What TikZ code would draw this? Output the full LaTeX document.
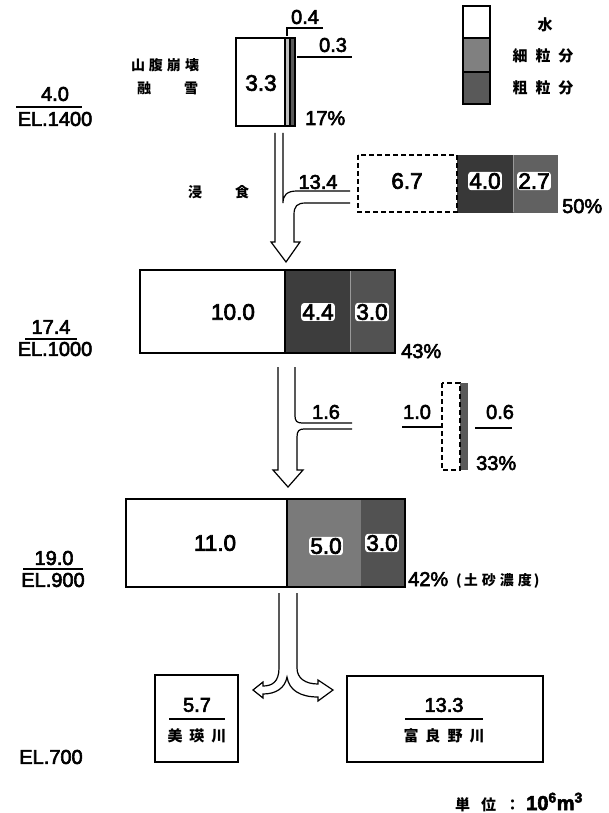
\documentclass[tikz,border=0pt]{standalone}
\usepackage{fontspec}
\setmainfont{Liberation Sans}
\newfontfamily\numf{Liberation Sans}[FakeBold=3]
\newfontfamily\jp{Noto Sans CJK JP}
\newcommand\jsp{\hspace{4pt}}
\begin{document}
\begin{tikzpicture}[x=1pt,y=-1pt,
  num/.style={font=\numf\fontsize{20}{20}\selectfont, inner sep=0pt},
  big/.style={font=\numf\fontsize{22.5}{22.5}\selectfont, inner sep=0pt},
  wnum/.style={big, fill=white, rounded corners=3pt, inner sep=1.2pt},
  jtxt/.style={font=\jp\bfseries\fontsize{14}{14}\selectfont, inner sep=0pt},
  jleg/.style={font=\jp\bfseries\fontsize{15}{15}\selectfont, inner sep=0pt},
  ln/.style={line width=1.2pt},
  box/.style={draw, line width=1.4pt},
  dbox/.style={draw, line width=1.4pt, dash pattern=on 5pt off 3pt}]
\useasboundingbox (0,0) rectangle (608,813);
\fill[white] (0,0) rectangle (608,813);

% ---------- legend ----------
\draw[ln, fill=white] (463,6) rectangle (490,38);
\draw[ln, fill=black!50] (463,38) rectangle (490,72);
\draw[ln, fill=black!65] (463,72) rectangle (490,104);
\draw[box] (463,6) rectangle (490,104);
\node[jleg] (lw) at (545,25) {水};
\node[jleg] (lf) at (543,56) {細\hspace{8pt}粒\hspace{8pt}分};
\node[jleg] (lc) at (543,88) {粗\hspace{8pt}粒\hspace{8pt}分};

% ---------- block 1 ----------
\fill[white] (236,38) rectangle (285,126);
\draw[ln, fill=black!25] (285,38) rectangle (290,126);
\draw[ln, fill=black!65] (290,38) rectangle (295,126);
\draw[box] (236,38) rectangle (295,126);
\node[big] (b1w) at (261,83) {3.3};
\node[num] (b1f) at (305,17) {0.4};
\coordinate (b1fa) at (287,36); \coordinate (b1fb) at (287,28); \coordinate (b1fc) at (323,28);
\draw[ln] (b1fa) -- (b1fb) -- (b1fc);
\node[num] (b1c) at (333,45) {0.3};
\coordinate (b1ca) at (297,57); \coordinate (b1cb) at (352,57);
\draw[ln] (b1ca) -- (b1cb);
\node[num, anchor=base west] (p1) at (305,125) {17\%};
\node[jtxt] (src1) at (165,65) {山\jsp{}腹\jsp{}崩\jsp{}壊};
\node[jtxt] (src2a) at (144,88) {融};
\node[jtxt] (src2b) at (191,88) {雪};
\node[num] (q1) at (55,94) {4.0};
\coordinate (q1a) at (16,107); \coordinate (q1b) at (82,107);
\draw[ln] (q1a) -- (q1b);
\node[num] (e1) at (55,119) {EL.1400};

% ---------- arrow 1 ----------
\draw[ln, line join=miter] (275,133) -- (275,242) -- (271,242) -- (286,262) -- (300,242) -- (294,242) -- (294,215)
  .. controls (294,206) and (297,203) .. (306,203) -- (350,203);
\draw[ln] (283,133) -- (283,203) .. controls (283,195) and (287,191) .. (297,191) -- (350,191);
\node[num] (a1) at (318,182) {13.4};
\node[jtxt] (er1) at (195,192) {浸};
\node[jtxt] (er2) at (242,192) {食};

% ---------- block 2 (erosion) ----------
\draw[draw=black!78, fill=black!78] (457,155) rectangle (513,212);
\draw[draw=black!62, fill=black!62] (513,155) rectangle (557,212);
\draw[dbox] (358,155) rectangle (457,212);
\draw[draw=black!40, line width=0.6pt] (513,155) -- (513,212);
\node[big] (b2w) at (407,181) {6.7};
\node[wnum] (b2f) at (485,181) {4.0};
\node[wnum] (b2c) at (534,181) {2.7};
\node[num, anchor=base west] (p2) at (562,213) {50\%};

% ---------- block 3 ----------
\fill[white] (140,270) rectangle (285,353);
\fill[black!76] (285,270) rectangle (350,353);
\fill[black!68] (350,270) rectangle (395,353);
\draw[draw=black!40, line width=0.6pt] (350,270) -- (350,353);
\draw[box] (140,270) rectangle (395,353);
\draw[ln] (285,270) -- (285,353);
\node[big] (b3w) at (233,312) {10.0};
\node[wnum] (b3f) at (318,312) {4.4};
\node[wnum] (b3c) at (372,312) {3.0};
\node[num, anchor=base west] (p3) at (401,358) {43\%};
\node[num] (q3) at (51,327) {17.4};
\coordinate (q3a) at (25,339); \coordinate (q3b) at (77,339);
\draw[ln] (q3a) -- (q3b);
\node[num] (e3) at (55,349) {EL.1000};

% ---------- arrow 2 ----------
\draw[ln, line join=miter] (278,367) -- (278,470) -- (273,470) -- (288,487) -- (303,470) -- (297,470) -- (297,437)
  .. controls (297,431) and (299,429) .. (304,429) -- (352,429);
\draw[ln] (295,367) -- (295,416) .. controls (295,421) and (297,423) .. (302,423) -- (352,423);
\node[num] (a2) at (326,412) {1.6};

% ---------- block 4 ----------
\fill[black!65] (460,383) rectangle (468,470);
\draw[dbox] (442,383) rectangle (460,470);
\node[num] (b4w) at (417,412) {1.0};
\coordinate (b4wa) at (402,427); \coordinate (b4wb) at (441,427);
\draw[ln] (b4wa) -- (b4wb);
\node[num] (b4c) at (500,412) {0.6};
\coordinate (b4ca) at (475,428); \coordinate (b4cb) at (512,428);
\draw[ln] (b4ca) -- (b4cb);
\node[num, anchor=base west] (p4) at (476,470) {33\%};

% ---------- block 5 ----------
\fill[white] (126,499) rectangle (287,587);
\fill[black!52] (287,499) rectangle (361,587);
\fill[black!68] (361,499) rectangle (405,587);
\draw[box] (126,499) rectangle (405,587);
\draw[ln] (287,499) -- (287,587);
\node[big] (b5w) at (215,543) {11.0};
\node[wnum] (b5f) at (326,546) {5.0};
\node[wnum] (b5c) at (382,543) {3.0};
\node[num, anchor=base west] (p5) at (408,586) {42\%};
\node[jtxt, anchor=base west] (p5t) at (456,585) {(\hspace{2pt}土\jsp{}砂\jsp{}濃\jsp{}度\hspace{2pt})};
\node[num] (q5) at (54,558) {19.0};
\coordinate (q5a) at (23,569); \coordinate (q5b) at (83,569);
\draw[ln] (q5a) -- (q5b);
\node[num] (e5) at (53,580) {EL.900};

% ---------- arrow 3 (split) ----------
\draw[ln, fill=white, line join=miter] (279,593) -- (279,668) .. controls (279,682) and (272,686) .. (263,686)
  -- (263,682) -- (253,690) -- (263,698) -- (263,694)
  .. controls (276,694) and (285,688) .. (287,677)
  .. controls (289,690) and (300,697) .. (318,697)
  -- (318,701) -- (333,690) -- (318,680) -- (318,684)
  .. controls (305,684) and (297,678) .. (297,668) -- (297,593);

% ---------- outlets ----------
\draw[box] (155,675) rectangle (238,762);
\node[num] (o1) at (197,705) {5.7};
\coordinate (o1a) at (169,719); \coordinate (o1b) at (225,719);
\draw[ln] (o1a) -- (o1b);
\node[jleg] (o1t) at (197,736) {美\hspace{7pt}瑛\hspace{7pt}川};

\draw[box] (347,676) rectangle (543,762);
\node[num] (o2) at (444,705) {13.3};
\coordinate (o2a) at (405,719); \coordinate (o2b) at (483,719);
\draw[ln] (o2a) -- (o2b);
\node[jleg] (o2t) at (444,736) {富\hspace{7pt}良\hspace{7pt}野\hspace{7pt}川};

\node[num] (e7) at (51,757) {EL.700};

\node[jleg, anchor=base west] (unit) at (455,810) {単\hspace{11pt}位\hspace{9pt}：\hspace{6pt}{\numf\fontsize{20}{20}\selectfont 10\textsuperscript{6}m\textsuperscript{3}}};
\end{tikzpicture}
\end{document}
